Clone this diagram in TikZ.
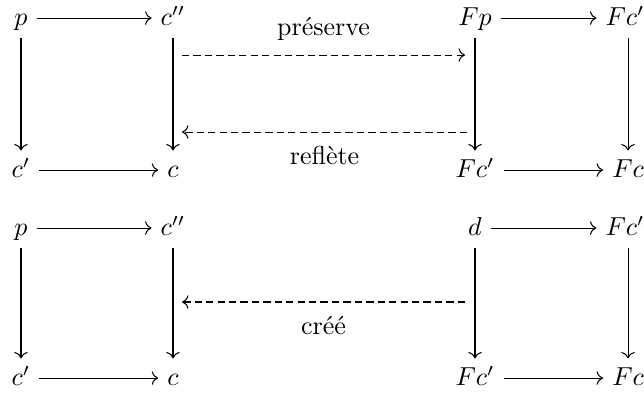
\documentclass[tikz,border=0pt]{standalone}
\usepackage{amsmath,amssymb}
\usepackage{fontspec}
\usepackage{tikz}
\usetikzlibrary{arrows.meta}

\begin{document}
\begin{tikzpicture}[>={Computer Modern Rightarrow},
  obj/.style={text height=1.6ex,text depth=0.25ex},
  transf/.style={->,dash pattern=on 2.8pt off 1.6pt}]
\useasboundingbox (0,0) rectangle (8.707,5.3);
% haut
\node[obj] (p) at (0.284,5.056) {$p$};
\node[obj] (cpp) at (2.339,5.056) {$c''$};
\node[obj] (cp) at (0.284,3.001) {$c'$};
\node[obj] (c) at (2.339,3.001) {$c$};
\node[obj] (Fp) at (6.422,5.056) {$Fp$};
\node[obj] (Fcpp) at (8.491,5.056) {$Fc''$};
\node[obj] (Fcp) at (6.422,3.001) {$Fc'$};
\node[obj] (Fc) at (8.491,3.001) {$Fc$};
\draw[->] (p) -- (cpp);
\draw[->] (p) -- (cp);
\draw[->] (cpp) -- (c);
\draw[->] (cp) -- (c);
\draw[->] (Fp) -- (Fcpp);
\draw[->] (Fp) -- (Fcp);
\draw[->] (Fcpp) -- (Fc);
\draw[->] (Fcp) -- (Fc);
\coordinate (pres1) at (2.461,4.556);
\coordinate (pres2) at (6.287,4.556);
\coordinate (refl1) at (6.314,3.515);
\coordinate (refl2) at (2.461,3.515);
\draw[transf] (pres1) -- node[above=2pt]{préserve} (pres2);
\draw[transf] (refl1) -- node[below=2pt]{reflète} (refl2);
% bas
\node[obj] (pB) at (0.284,2.217) {$p$};
\node[obj] (cppB) at (2.339,2.217) {$c''$};
\node[obj] (cpB) at (0.284,0.189) {$c'$};
\node[obj] (cB) at (2.339,0.189) {$c$};
\node[obj] (d) at (6.422,2.217) {$d$};
\node[obj] (FcppB) at (8.491,2.217) {$Fc''$};
\node[obj] (FcpB) at (6.422,0.189) {$Fc'$};
\node[obj] (FcB) at (8.491,0.189) {$Fc$};
\draw[->] (pB) -- (cppB);
\draw[->] (pB) -- (cpB);
\draw[->] (cppB) -- (cB);
\draw[->] (cpB) -- (cB);
\draw[->] (d) -- (FcppB);
\draw[->] (d) -- (FcpB);
\draw[->] (FcppB) -- (FcB);
\draw[->] (FcpB) -- (FcB);
\coordinate (cree1) at (6.287,1.217);
\coordinate (cree2) at (2.461,1.217);
\draw[transf] (cree1) -- node[below=2pt]{créé} (cree2);
\end{tikzpicture}
\end{document}
